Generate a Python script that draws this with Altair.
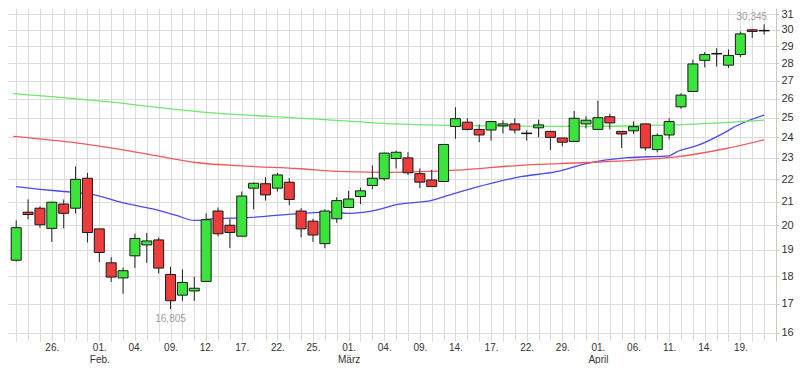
import altair as alt
import pandas as pd

# ---- candle data (index = trading day position) ----
open_ = [18.6, 20.55, 20.72, 19.87, 20.9, 20.72, 22.05, 19.85, 18.5, 17.93,
         18.77, 19.2, 19.4, 18.06, 17.3, 17.45, 17.8, 20.6, 20.0, 19.55,
         21.6, 21.8, 21.6, 21.87, 20.6, 20.17, 19.25, 20.27, 20.75, 21.23,
         21.72, 22.03, 22.97, 23.0, 22.26, 21.97, 21.9, 24.55, 24.77, 24.4,
         24.37, 24.58, 24.68, 24.2, 24.48, 24.3, 23.97, 23.8, 24.68, 24.4,
         25.05, 24.3, 24.33, 24.68, 23.4, 24.12, 25.57, 26.4, 28.16, 28.55,
         27.88, 28.5, 30.0, 29.95]
high = [20.2, 21.1, 20.8, 21.0, 21.1, 22.6, 22.3, 19.85, 18.72, 18.32,
        19.66, 19.68, 19.5, 18.35, 18.25, 17.97, 20.5, 20.75, 20.27, 21.45,
        21.85, 22.1, 22.3, 22.06, 20.72, 20.27, 20.67, 21.2, 21.48, 21.62,
        22.65, 23.25, 23.35, 23.27, 22.5, 22.44, 23.65, 25.55, 24.97, 24.65,
        24.82, 24.86, 24.97, 24.35, 24.9, 24.3, 23.97, 25.35, 25.07, 25.9,
        25.2, 24.3, 24.8, 24.7, 24.2, 24.97, 26.3, 28.2, 28.65, 28.88,
        28.8, 29.9, 30.05, 30.345]
low = [18.55, 20.25, 19.9, 19.32, 19.87, 20.5, 19.3, 18.53, 17.78, 17.35,
       18.3, 18.5, 18.1, 16.805, 17.1, 17.1, 17.8, 19.55, 19.08, 19.55,
       20.67, 21.05, 21.45, 20.85, 19.5, 19.32, 19.07, 20.1, 20.75, 20.9,
       21.55, 21.93, 22.5, 22.2, 21.6, 21.67, 21.9, 23.93, 24.35, 23.76,
       23.84, 24.2, 24.2, 23.84, 24.0, 23.38, 23.56, 23.8, 24.45, 24.4,
       24.4, 23.48, 24.17, 23.35, 23.27, 23.9, 25.47, 26.4, 27.75, 27.8,
       27.72, 28.35, 29.5, 29.7]
close = [19.9, 20.45, 20.02, 20.98, 20.5, 22.0, 19.7, 18.9, 17.96, 18.2,
         19.46, 19.36, 18.3, 17.1, 17.76, 17.55, 20.23, 19.65, 19.7, 21.25,
         21.82, 21.3, 22.2, 21.1, 19.85, 19.6, 20.6, 21.05, 21.12, 21.48,
         22.05, 23.23, 23.27, 22.3, 21.87, 21.67, 23.65, 24.95, 24.4, 24.12,
         24.8, 24.68, 24.37, 24.2, 24.63, 24.0, 23.76, 24.97, 24.87, 25.0,
         24.73, 24.17, 24.54, 23.48, 24.1, 24.8, 26.2, 27.95, 28.5, 28.55,
         28.45, 29.75, 29.9, 29.95]
idx = list(range(len(open_)))

# ---- x axis labels ----
tick_idx = [3, 7, 10, 13, 16, 19, 22, 25, 28, 31, 34, 37, 40, 43, 46, 49, 52, 55, 58, 61]
tick_day = ["26.", "01.", "04.", "09.", "12.", "17.", "22.", "25.", "01.", "04.",
            "09.", "14.", "17.", "22.", "29.", "01.", "06.", "11.", "14.", "19."]
tick_month = ["", "Feb.", "", "", "", "", "", "", "März", "",
              "", "", "", "", "", "April", "", "", "", ""]
y_ticks = list(range(16, 32))

# ---- moving averages ----
ma_blue_i = [0, 2, 4, 6.5, 9, 11.5, 13.5, 15, 16.5, 19.5, 23.5, 26.5, 28, 30.5, 32,
             35, 37, 40, 42.5, 45.5, 48, 51.5, 55, 55.6, 57.4, 59.7, 60.6, 63]
ma_blue_v = [21.67, 21.55, 21.45, 21.31, 20.95, 20.69, 20.41, 20.2, 20.27, 20.32, 20.48,
             20.55, 20.5, 20.66, 20.87, 21.06, 21.38, 21.82, 22.12, 22.35, 22.73, 23.01,
             23.1, 23.28, 23.6, 24.25, 24.56, 25.14]
ma_red_i = [-0.25, 4.6, 10.1, 15.3, 19.4, 23.6, 27.7, 31.5, 37.1, 42.5, 48.1, 52.8, 55.6, 59.7, 63]
ma_red_v = [24.05, 23.76, 23.28, 22.77, 22.61, 22.5, 22.35, 22.32, 22.42, 22.65, 22.78,
            22.92, 23.05, 23.44, 23.88]
ma_green_i = [-0.25, 7.4, 15.3, 24, 29, 31.9, 40.6, 47.3, 53.1, 57.3, 63]
ma_green_v = [26.28, 25.86, 25.32, 24.97, 24.78, 24.68, 24.57, 24.55, 24.6, 24.67, 24.87]

# ---- annotations ----
ann_idx = [63, 13]
ann_val = [30.345, 16.805]
ann_text = ["30,345", "16,805"]
ann_pos = ["above", "below"]

# ---- tables ----
df = pd.DataFrame({"i": idx, "open": open_, "high": high, "low": low, "close": close})
df["dir"] = ["up" if c > o else ("down" if c < o else "flat") for o, c in zip(open_, close)]
df["btop"] = df[["open", "close"]].max(axis=1)
df["bbot"] = df[["open", "close"]].min(axis=1)
bodies = df[df["dir"] != "flat"]
flats = df[df["dir"] == "flat"]

ma = pd.concat([
    pd.DataFrame({"i": ma_blue_i, "v": ma_blue_v, "s": "blue"}),
    pd.DataFrame({"i": ma_red_i, "v": ma_red_v, "s": "red"}),
    pd.DataFrame({"i": ma_green_i, "v": ma_green_v, "s": "green"}),
])
ann = pd.DataFrame({"i": ann_idx, "v": ann_val, "t": ann_text, "p": ann_pos})

parts = []
for i, d, m in zip(tick_idx, tick_day, tick_month):
    lab = f"['{d}','{m}']" if m else f"'{d}'"
    parts.append(f"datum.value == {i} ? {lab} : ")
label_expr = "".join(parts) + "''"

FONT = "Liberation Sans"
GRID = "#dcdcdc"

xscale = alt.Scale(domain=[-0.27, 63.58], nice=False, zero=False)
yscale = alt.Scale(type="log", domain=[15.73, 31.39], nice=False, zero=False)

xaxis = alt.Axis(values=idx, grid=True, gridColor=GRID, gridWidth=1, ticks=False, domain=False,
                 labelExpr=label_expr, labelFlush=False, labelOverlap=False, labelPadding=1,
                 labelFontSize=10, labelColor="#333333", labelFont=FONT, labelLineHeight=12,
                 title=None)
yaxis = alt.Axis(orient="right", values=y_ticks, format="d", grid=True, gridColor=GRID,
                 domainColor="#c8c8c8", tickColor="#c8c8c8", tickSize=3, labelPadding=2,
                 labelFontSize=11, labelColor="#333333", labelFont=FONT, title=None)

X = alt.X("i:Q", scale=xscale, axis=xaxis)

lines = alt.Chart(ma).mark_line(strokeWidth=1.3, interpolate="monotone").encode(
    x=X,
    y=alt.Y("v:Q", scale=yscale, axis=yaxis),
    color=alt.Color("s:N", scale=alt.Scale(domain=["blue", "red", "green"],
                                            range=["#4a4af0", "#f05a5a", "#6ee86e"]), legend=None),
    detail="s:N",
)

wicks = alt.Chart(df).mark_rule(color="#222222", strokeWidth=1).encode(
    x=X, y=alt.Y("low:Q", scale=yscale, axis=yaxis), y2="high:Q"
)

body = alt.Chart(bodies).mark_bar(size=10, stroke="#1a1a1a", strokeWidth=1).encode(
    x=X,
    y=alt.Y("bbot:Q", scale=yscale, axis=yaxis),
    y2="btop:Q",
    fill=alt.Fill("dir:N", scale=alt.Scale(domain=["up", "down"], range=["#3de33d", "#ec3c3c"]),
                  legend=None),
)

doji = alt.Chart(flats).transform_calculate(a="datum.i - 0.45", b="datum.i + 0.45").mark_rule(
    color="#111111", strokeWidth=1.5
).encode(
    x=alt.X("a:Q", scale=xscale, axis=xaxis), x2="b:Q",
    y=alt.Y("open:Q", scale=yscale, axis=yaxis),
)

ann_above = alt.Chart(ann[ann["p"] == "above"]).mark_text(
    align="right", baseline="bottom", dx=3, dy=-2, fontSize=10, font=FONT, color="#a0a0a0"
).encode(x=X, y=alt.Y("v:Q", scale=yscale, axis=yaxis), text="t:N")

ann_below = alt.Chart(ann[ann["p"] == "below"]).mark_text(
    align="center", baseline="top", dy=5, fontSize=10, font=FONT, color="#a0a0a0"
).encode(x=X, y=alt.Y("v:Q", scale=yscale, axis=yaxis), text="t:N")

chart = alt.layer(lines, wicks, body, doji, ann_above, ann_below).properties(
    width=768, height=333, padding=0, background="white"
).configure_view(stroke=None)

chart.save("out.html", embed_options={"renderer": "svg", "actions": False})
